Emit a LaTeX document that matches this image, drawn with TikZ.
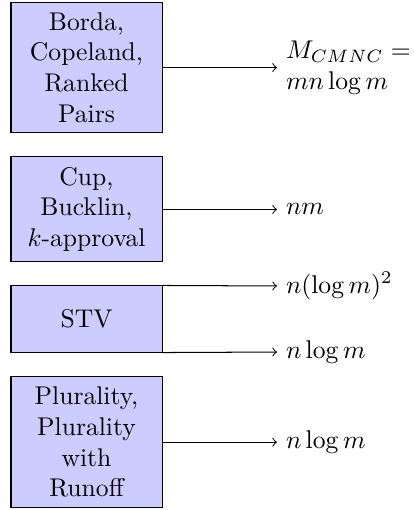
\documentclass[tikz,border=0pt]{standalone}
\usetikzlibrary{calc}

\tikzset{rulebox/.style={draw, fill=blue!20, text width=51pt, inner sep=4pt, align=center}}
\tikzset{cost/.style={anchor=west, align=left}}

\begin{document}
\begin{tikzpicture}[x=1pt, y=1pt]

\useasboundingbox (0,0) rectangle (161.7,199.2);

\node[rulebox] (borda) at (33.8,172.8) {Borda,\\ Copeland,\\ Ranked\\ Pairs};
\node[rulebox] (cup) at (33.8,117.4) {Cup,\\ Bucklin,\\ $k$-approval};
\node[rulebox, minimum height=25.8pt] (stv) at (33.8,74.6) {STV};
\node[rulebox] (plur) at (33.8,26.5) {Plurality,\\ Plurality\\ with\\ Runoff};

\node[cost] (cmnc) at (108.2,172.8) {$M_{CMNC} =$\\ $mn\log m$};
\node[cost] (nm) at (108.2,117.4) {$nm$};
\node[cost] (stvhi) at (108.2,87.5) {$n(\log m)^2$};
\node[cost] (stvlo) at (108.2,61.7) {$n\log m$};
\node[cost] (plurcost) at (108.2,26.5) {$n\log m$};

\draw[->] (borda.east) -- (cmnc.west);
\draw[->] (cup.east) -- (nm.west);
\draw[->] (stv.north east) -- (stvhi.west);
\draw[->] (stv.south east) -- (stvlo.west);
\draw[->] (plur.east) -- (plurcost.west);

\end{tikzpicture}
\end{document}
